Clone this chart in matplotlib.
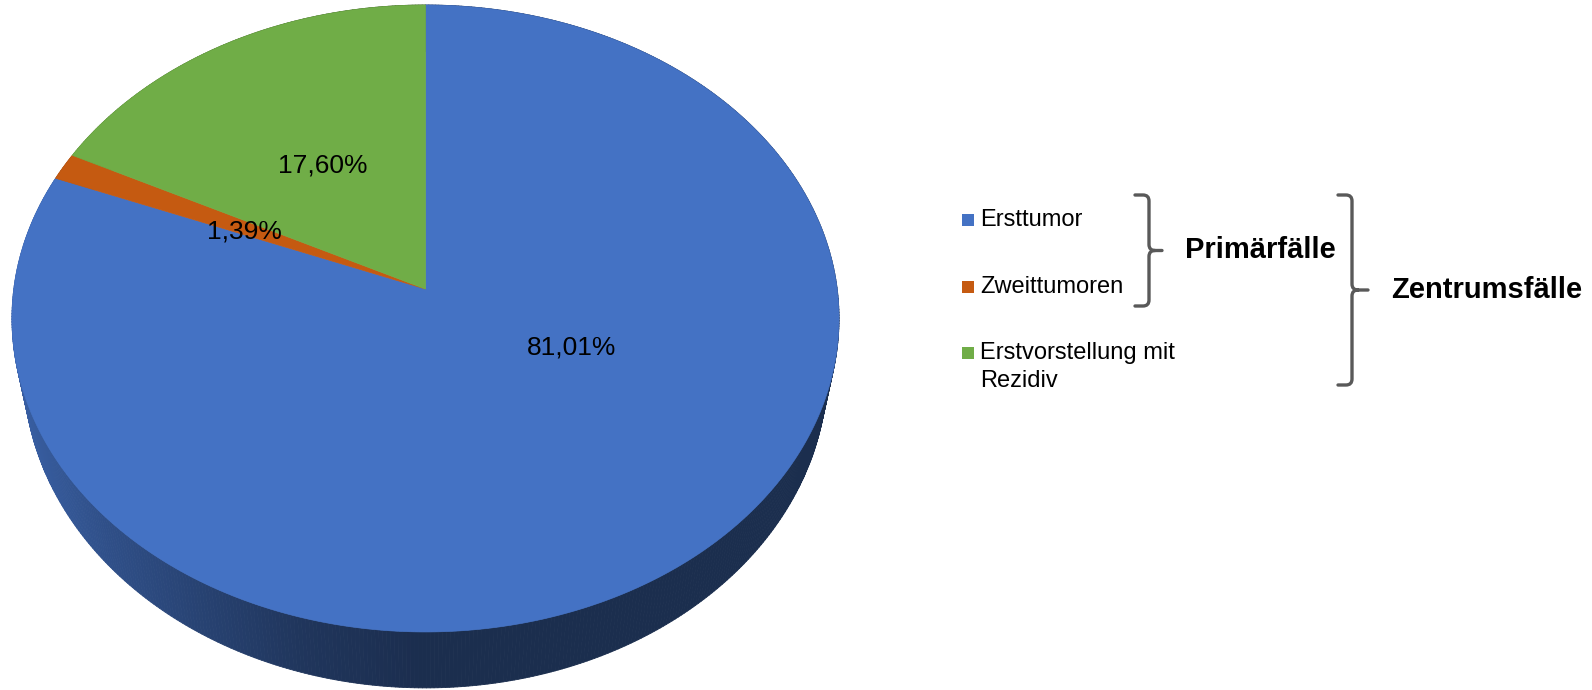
import numpy as np
import matplotlib.pyplot as plt
from matplotlib.patches import Polygon, Rectangle, PathPatch
from matplotlib.collections import PolyCollection
from matplotlib.path import Path
from matplotlib.colors import to_rgb

plt.rcParams['font.family'] = ['Liberation Sans', 'DejaVu Sans']

# Data
categories = ["Ersttumor", "Zweittumoren", "Erstvorstellung mit\nRezidiv"]
shares = [81.01, 1.39, 17.60]
colors = ["#4472C4", "#C55A11", "#70AD47"]
group_labels = ["Primärfälle", "Zentrumsfälle"]

# label positions (pixels) for the percentages
label_pos = [(572, 347), (244, 231), (323, 165)]

# perspective set-up of the tilted pie (pixel units)
CX, CY = 425.5, 289.0
A, B = 411.7, 310.7
K = 0.094
DEPTH = 50.7
BOTTOM_SCALE = 0.972   # lower rim sits further away, so a bit narrower


def project(X, Z, drop=0.0):
    w = 1 - K * Z
    return CX + A * X / w, CY + (B * Z + drop) / w


def rim(phi, drop=0.0):
    # phi in degrees, clockwise from 12 o'clock
    t = np.radians(phi)
    s = BOTTOM_SCALE if drop else 1.0
    return project(s * np.sin(t), -np.cos(t), drop)


def side_shade(x):
    return np.interp(x, [20, 100, 200, 300, 420, 840], [0.82, 0.70, 0.58, 0.47, 0.40, 0.40])


fig = plt.figure(figsize=(15.92, 6.9), dpi=100)
ax = fig.add_axes([0, 0, 1, 1])
ax.set_xlim(0, 1592)
ax.set_ylim(690, 0)
ax.axis('off')

bounds = np.concatenate([[0], np.cumsum(shares)]) / sum(shares) * 360

# side wall first, top faces drawn over it
quads, qcols = [], []
for i, col in enumerate(colors):
    phis = np.linspace(bounds[i], bounds[i + 1], max(int((bounds[i + 1] - bounds[i]) * 2), 2))
    tx, ty = rim(phis)
    bx, by = rim(phis, DEPTH)
    base = np.array(to_rgb(col))
    for j in range(len(phis) - 1):
        quads.append([(tx[j], ty[j]), (tx[j + 1], ty[j + 1]), (bx[j + 1], by[j + 1]), (bx[j], by[j])])
        qcols.append(tuple(base * side_shade((tx[j] + tx[j + 1]) / 2)))
ax.add_collection(PolyCollection(quads, facecolors=qcols, edgecolors=qcols, linewidths=0.6))

for i, col in enumerate(colors):
    phis = np.linspace(bounds[i], bounds[i + 1], max(int((bounds[i + 1] - bounds[i]) * 3), 3))
    tx, ty = rim(phis)
    pts = [(CX, CY)] + list(zip(tx, ty))
    ax.add_patch(Polygon(pts, closed=True, facecolor=col, edgecolor=col, linewidth=0.5))

for v, (x, y) in zip(shares, label_pos):
    ax.text(x, y, f"{v:.2f}%".replace('.', ','), fontsize=19, ha='center', va='center', color='black')

# legend
leg_y = [220, 287, 353]
for name, col, y in zip(categories, colors, leg_y):
    ax.add_patch(Rectangle((962, y - 6), 12, 12, facecolor=col, edgecolor='none'))
    for k, line in enumerate(name.split('\n')):
        ax.text(980, y + k * 28, line, fontsize=17, ha='left', va='center', color='black')


def brace(x_hook, x_v, x_tip, top, bottom, r=6):
    mid = (top + bottom) / 2
    verts = [(x_hook, top), (x_v - r, top), (x_v, top), (x_v, top + r),
             (x_v, mid - r), (x_v, mid), (x_v + r, mid), (x_tip, mid),
             (x_v + r, mid), (x_v, mid), (x_v, mid + r),
             (x_v, bottom - r), (x_v, bottom), (x_v - r, bottom), (x_hook, bottom)]
    codes = [Path.MOVETO, Path.LINETO, Path.CURVE3, Path.CURVE3,
             Path.LINETO, Path.CURVE3, Path.CURVE3, Path.LINETO,
             Path.MOVETO, Path.CURVE3, Path.CURVE3,
             Path.LINETO, Path.CURVE3, Path.CURVE3, Path.LINETO]
    ax.add_patch(PathPatch(Path(verts, codes), facecolor='none', edgecolor='#595959',
                           linewidth=2.4, capstyle='round', joinstyle='round'))
    return mid


m1 = brace(1135, 1149, 1162, 195, 306)
ax.text(1185, m1, group_labels[0], fontsize=21, fontweight='bold', ha='left', va='center')
m2 = brace(1338, 1352, 1368, 195, 385)
ax.text(1391, m2, group_labels[1], fontsize=21, fontweight='bold', ha='left', va='center')

fig.savefig("out.png", dpi=100)
